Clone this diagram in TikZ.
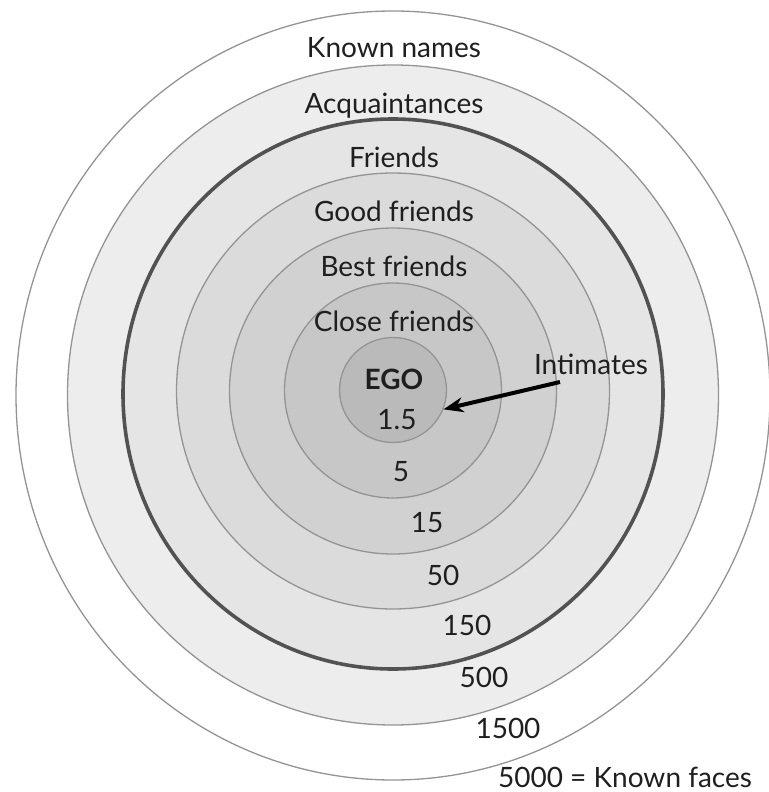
\documentclass[tikz,border=0pt]{standalone}
\usepackage{fontspec}
\setmainfont{Lato}
\usetikzlibrary{arrows.meta,shapes.geometric}
\tikzset{
	ring/.style={draw=black!42, line width=0.65pt},
	txt/.style={text=black!88, anchor=base, inner sep=0pt, font=\fontsize{14}{16}\selectfont}
}

\begin{document}
\begin{tikzpicture}[x=0.5pt, y=-0.5pt]
			%%%%% START %%%%%
			
			\useasboundingbox (0,0) rectangle (769,792);
			
			\foreach \rx/\ry/\cy/\shade in {377/384.5/395.5/white, 325.5/330/395/black!7, 270/275/394/black!10, 216.5/218/391/black!14, 163.5/163/391/black!18, 108.5/107.5/390.5/black!22}
				\draw[ring, fill=\shade] (393,\cy) ellipse ({\rx} and {\ry});
			
			\draw[ring, draw=black!68, line width=1.8pt] (393,394) ellipse (270 and 275);
			\node[ring, ellipse, fill=black!27, inner sep=0pt, minimum width=53.5pt, minimum height=52.5pt] (ego) at (393,390) {};
			
			\node[txt] (known) at (394,58) {Known names};
			\node[txt] (acq) at (394,113) {Acquaintances};
			\node[txt] (fr) at (394,167) {Friends};
			\node[txt] (good) at (394,221) {Good friends};
			\node[txt] (best) at (394,276) {Best friends};
			\node[txt] (close) at (394,331) {Close friends};
			\node[txt, font=\fontsize{14}{16}\selectfont\bfseries] (egotxt) at (394,389) {EGO};
			\node[txt] (int) at (591,374) {Intimates};
			
			\node[txt] (n1) at (397,429) {1.5};
			\node[txt] (n2) at (401,481) {5};
			\node[txt] (n3) at (427,532) {15};
			\node[txt] (n4) at (443,585) {50};
			\node[txt] (n5) at (467,635) {150};
			\node[txt] (n6) at (484,687) {500};
			\node[txt] (n7) at (508,738) {1500};
			\node[txt] (faces) at (625,787) {5000 = Known faces};
			
			\draw[line width=2pt, -{Stealth[length=10pt, width=7.5pt]}] ([xshift=-15.5pt, yshift=-4pt]int.base) -- (ego.-21);
			
			%%%%% END %%%%%
		\end{tikzpicture}
\end{document}
